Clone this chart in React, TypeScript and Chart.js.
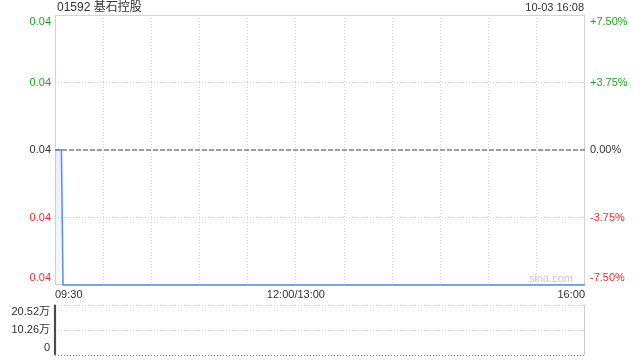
import React, { useEffect, useRef } from 'react';
import { Chart, registerables } from 'chart.js';

Chart.register(...registerables);

const FONT = '"Liberation Sans", Arial, "Noto Sans CJK SC", sans-serif';

const TITLE = '01592 基石控股';
const TIMESTAMP = '10-03 16:08';
const WATERMARK = 'sina.com';

const PREV_CLOSE = 0.04;
const PRICE_MIN = 0.037;
const PRICE_MAX = 0.043;

// minutes since 09:30 with the lunch break removed (0 .. 330)
const priceTimes = [0, 4, 5, 330];
const priceValues = [0.04, 0.04, 0.037, 0.037];

const timeTicks = [0, 30, 60, 90, 120, 150, 180, 210, 240, 270, 300, 330];
const timeTickLabels: Record<number, string> = { 0: '09:30', 150: '12:00/13:00', 330: '16:00' };

const priceTicks = [0.037, 0.0385, 0.04, 0.0415, 0.043];
const pctTicks = [-7.5, -3.75, 0, 3.75, 7.5];

const volumeTimes = [0];
const volumeValues = [205200];
const volumeTicks = [0, 102600, 205200];
const volumeTickLabels = ['0', '10.26万', '20.52万'];

const GREEN = '#22a822';
const RED = '#f03030';
const TEXT = '#333333';
const GRID = '#d0d0d0';

const frame = {
  id: 'frame',
  beforeDatasetsDraw(chart: any, _args: any, opts: any) {
    const { ctx, chartArea: a } = chart;
    ctx.save();
    ctx.strokeStyle = opts.color || '#d6d6d6';
    ctx.lineWidth = 1;
    ctx.beginPath();
    const sides: string[] = opts.sides || [];
    if (sides.includes('top')) { ctx.moveTo(a.left, a.top + 0.5); ctx.lineTo(a.right, a.top + 0.5); }
    if (sides.includes('bottom')) { ctx.moveTo(a.left, a.bottom - 0.5); ctx.lineTo(a.right, a.bottom - 0.5); }
    if (sides.includes('left')) { ctx.moveTo(a.left + 0.5, a.top); ctx.lineTo(a.left + 0.5, a.bottom); }
    if (sides.includes('right')) { ctx.moveTo(a.right - 0.5, a.top); ctx.lineTo(a.right - 0.5, a.bottom); }
    ctx.stroke();
    ctx.restore();
  },
};

const near = (a: number, b: number) => Math.abs(a - b) < 1e-7;

const fixWidth = (w: number) => (s: any) => {
  s.width = w;
  s.paddingTop = 0;
  s.paddingBottom = 0;
};
const fixHeight = (h: number) => (s: any) => {
  s.height = h;
  s.paddingLeft = 0;
  s.paddingRight = 0;
};

export default function App() {
  const mainRef = useRef<HTMLCanvasElement>(null);
  const volRef = useRef<HTMLCanvasElement>(null);

  useEffect(() => {
    Chart.defaults.font.family = FONT;
    Chart.defaults.font.size = 11;
    Chart.defaults.color = TEXT;

    const minTime = timeTicks[0];
    const maxTime = timeTicks[timeTicks.length - 1];

    const main = new Chart(mainRef.current!, {
      type: 'line',
      data: {
        datasets: [
          {
            label: 'price',
            data: priceTimes.map((t, i) => ({ x: t, y: priceValues[i] })),
            borderColor: '#5b8de6',
            borderWidth: 1.5,
            pointRadius: 0,
            tension: 0,
            fill: 'start',
            clip: { left: 1, right: 1, top: 1, bottom: 2 },
            backgroundColor: (c: any) => {
              const area = c.chart.chartArea;
              if (!area) return 'rgba(91,141,230,0.12)';
              const g = c.chart.ctx.createLinearGradient(0, area.top, 0, area.bottom);
              g.addColorStop(0, 'rgba(91,141,230,0.2)');
              g.addColorStop(1, 'rgba(91,141,230,0.06)');
              return g;
            },
            yAxisID: 'y',
            order: 0,
          },
          {
            label: 'prev',
            data: [
              { x: minTime, y: PREV_CLOSE },
              { x: maxTime, y: PREV_CLOSE },
            ],
            borderColor: '#808080',
            borderWidth: 1.5,
            borderDash: [5, 2],
            pointRadius: 0,
            fill: false,
            yAxisID: 'y',
            order: 1,
          },
        ],
      },
      options: {
        animation: false,
        responsive: false,
        layout: { padding: { top: 15, left: 0, right: 0, bottom: 0 } },
        plugins: {
          legend: { display: false },
          tooltip: { enabled: false },
          frame: { sides: ['top', 'left', 'right', 'bottom'], color: '#d4d4d4' },
        } as any,
        scales: {
          x: {
            type: 'linear',
            min: minTime,
            max: maxTime,
            offset: false,
            afterBuildTicks: (s: any) => { s.ticks = timeTicks.map((v) => ({ value: v })); },
            afterFit: fixHeight(15),
            ticks: {
              autoSkip: false,
              maxRotation: 0,
              align: 'inner',
              padding: 3,
              color: TEXT,
              callback: (v: any) => timeTickLabels[v as number] ?? '',
            },
            grid: {
              drawTicks: false,
              color: (c: any) =>
                c.tick && (c.tick.value === minTime || c.tick.value === maxTime) ? 'rgba(0,0,0,0)' : GRID,
            },
            border: { display: false, dash: [1, 2] },
          },
          y: {
            type: 'linear',
            position: 'left',
            min: PRICE_MIN,
            max: PRICE_MAX,
            afterBuildTicks: (s: any) => { s.ticks = priceTicks.map((v) => ({ value: v })); },
            afterFit: fixWidth(55),
            ticks: {
              autoSkip: false,
              padding: 4,
              color: (c: any) => {
                const v = c.tick.value;
                if (near(v, PREV_CLOSE)) return TEXT;
                return v > PREV_CLOSE ? GREEN : RED;
              },
              callback: (v: any) => {
                const t = Number(v).toFixed(2);
                if (near(v, PRICE_MAX)) return ['', t];
                if (near(v, PRICE_MIN)) return [t, ''];
                return t;
              },
            },
            grid: {
              drawTicks: false,
              color: (c: any) => {
                const v = c.tick && c.tick.value;
                if (v === undefined || near(v, PRICE_MIN) || near(v, PRICE_MAX) || near(v, PREV_CLOSE)) return 'rgba(0,0,0,0)';
                return GRID;
              },
            },
            border: { display: false, dash: [1, 2] },
          },
          y2: {
            type: 'linear',
            position: 'right',
            min: pctTicks[0],
            max: pctTicks[pctTicks.length - 1],
            afterBuildTicks: (s: any) => { s.ticks = pctTicks.map((v) => ({ value: v })); },
            afterFit: fixWidth(55),
            ticks: {
              autoSkip: false,
              padding: 5,
              color: (c: any) => {
                const v = c.tick.value;
                if (v === 0) return TEXT;
                return v > 0 ? GREEN : RED;
              },
              callback: (v: any) => {
                const n = Number(v);
                const t = (n > 0 ? '+' : '') + n.toFixed(2) + '%';
                if (n === pctTicks[pctTicks.length - 1]) return ['', t];
                if (n === pctTicks[0]) return [t, ''];
                return t;
              },
            },
            grid: { display: false, drawTicks: false },
            border: { display: false },
          },
        },
      } as any,
      plugins: [frame],
    });

    const vol = new Chart(volRef.current!, {
      type: 'bar',
      data: {
        datasets: [
          {
            label: 'volume',
            data: volumeTimes.map((t, i) => ({ x: t, y: volumeValues[i] })),
            backgroundColor: '#4a4a4a',
            barThickness: 1.5,
            clip: false as any,
          } as any,
        ],
      },
      options: {
        animation: false,
        responsive: false,
        layout: { padding: { top: 5, bottom: 5, left: 0, right: 0 } },
        plugins: {
          legend: { display: false },
          tooltip: { enabled: false },
          frame: { sides: ['right'], color: '#cccccc' },
        } as any,
        scales: {
          x: {
            type: 'linear',
            min: minTime,
            max: maxTime,
            offset: false,
            display: false,
            grid: { offset: false },
          },
          y: {
            type: 'linear',
            position: 'left',
            min: volumeTicks[0],
            max: volumeTicks[volumeTicks.length - 1],
            afterBuildTicks: (s: any) => { s.ticks = volumeTicks.map((v) => ({ value: v })); },
            afterFit: fixWidth(55),
            ticks: {
              autoSkip: false,
              padding: 5,
              color: TEXT,
              callback: (_v: any, i: number) => {
                const t = volumeTickLabels[i];
                if (i === volumeTicks.length - 1) return ['', t];
                if (i === 0) return [t, ''];
                return t;
              },
            },
            grid: {
              drawTicks: false,
              color: (c: any) => (c.tick && c.tick.value === volumeTicks[0] ? '#8a8a8a' : GRID),
            },
            border: { display: false, dash: [1, 2] },
          },
          y2: {
            type: 'linear',
            position: 'right',
            display: true,
            afterFit: fixWidth(55),
            ticks: { display: false },
            grid: { display: false },
            border: { display: false },
          },
        },
      } as any,
      plugins: [frame],
    });

    return () => {
      main.destroy();
      vol.destroy();
    };
  }, []);

  const base: React.CSSProperties = {
    position: 'absolute',
    fontFamily: FONT,
    whiteSpace: 'nowrap',
  };

  return (
    <div style={{ position: 'fixed', left: 0, top: 0, width: 640, height: 360, background: '#fff', overflow: 'hidden' }}>
      <canvas ref={mainRef} width={640} height={300} style={{ position: 'absolute', left: 0, top: 0, width: 640, height: 300 }} />
      <canvas ref={volRef} width={640} height={60} style={{ position: 'absolute', left: 0, top: 300, width: 640, height: 60 }} />
      <div style={{ ...base, left: 57, top: 0, fontSize: 12, lineHeight: '14px', color: TEXT }}>{TITLE}</div>
      <div style={{ ...base, right: 56, top: 0, fontSize: 11, lineHeight: '14px', color: TEXT }}>{TIMESTAMP}</div>
      <div style={{ ...base, right: 67, top: 271, fontSize: 11, lineHeight: '14px', color: '#c8c8c8' }}>{WATERMARK}</div>
    </div>
  );
}
